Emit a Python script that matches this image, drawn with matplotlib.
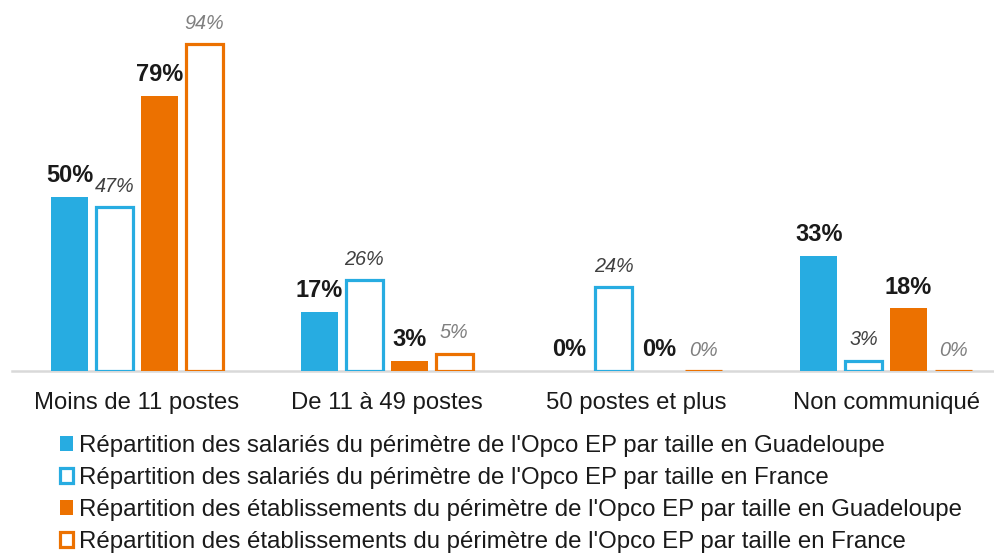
import numpy as np
import matplotlib.pyplot as plt
from matplotlib.patches import Patch

plt.rcParams['font.family'] = ['Liberation Sans', 'DejaVu Sans']

categories = ["Moins de 11 postes", "De 11 à 49 postes", "50 postes et plus", "Non communiqué"]
sal_guadeloupe = [50, 17, 0, 33]
sal_france = [47, 26, 24, 3]
etab_guadeloupe = [79, 3, 0, 18]
etab_france = [94, 5, 0, 0]
series_names = [
    "Répartition des salariés du périmètre de l'Opco EP par taille en Guadeloupe",
    "Répartition des salariés du périmètre de l'Opco EP par taille en France",
    "Répartition des établissements du périmètre de l'Opco EP par taille en Guadeloupe",
    "Répartition des établissements du périmètre de l'Opco EP par taille en France",
]

blue = '#27ACE1'
orange = '#EC7100'

fig = plt.figure(figsize=(9.95, 5.54), dpi=100)
ax = fig.add_axes([12 / 995, 183 / 554, 999 / 995, 361 / 554])

x = np.arange(len(categories))
w = 0.148
step = 0.18
offsets = [-1.5 * step, -0.5 * step, 0.5 * step, 1.5 * step]

# (values, filled?, colour, label colour)
series = [
    (sal_guadeloupe, True, blue, '#1a1a1a'),
    (sal_france, False, blue, '#404040'),
    (etab_guadeloupe, True, orange, '#1a1a1a'),
    (etab_france, False, orange, '#7F7F7F'),
]

for (vals, filled, col, lab_col), off in zip(series, offsets):
    if filled:
        bars = ax.bar(x + off, vals, w, color=col, edgecolor='none', zorder=2)
    else:
        bars = ax.bar(x + off, vals, w, facecolor='white', edgecolor=col, linewidth=2.3, zorder=2)
    for b, v in zip(bars, vals):
        ax.annotate(f'{v}%', (b.get_x() + b.get_width() / 2, v),
                    textcoords='offset points', xytext=(0, 7 if filled else 8),
                    ha='center', va='bottom', color=lab_col,
                    fontsize=17 if filled else 14.3,
                    fontweight='bold' if filled else 'normal',
                    fontstyle='normal' if filled else 'italic')

ax.set_xlim(-0.5, 3.5)
ax.set_ylim(0, 103.7)
ax.set_xticks(x)
ax.set_xticklabels(categories, fontsize=17.2, color='#1a1a1a')
ax.tick_params(axis='x', length=0, pad=15)
ax.set_yticks([])
for s in ['top', 'left', 'right']:
    ax.spines[s].set_visible(False)
ax.spines['bottom'].set_color('#D9D9D9')
ax.spines['bottom'].set_linewidth(1.8)
ax.spines['bottom'].set_zorder(1)

handles = [
    Patch(facecolor=blue, edgecolor='none'),
    Patch(facecolor='white', edgecolor=blue, linewidth=2.3),
    Patch(facecolor=orange, edgecolor='none'),
    Patch(facecolor='white', edgecolor=orange, linewidth=2.3),
]
fig.legend(handles, series_names, loc='upper left', bbox_to_anchor=(60 / 995, 1 - 435 / 554),
           frameon=False, fontsize=17.3, handlelength=0.56, handleheight=0.56,
           handletextpad=0.22, labelspacing=0.42, borderpad=0, borderaxespad=0,
           labelcolor='#1a1a1a')

fig.savefig('out.png', dpi=100)
